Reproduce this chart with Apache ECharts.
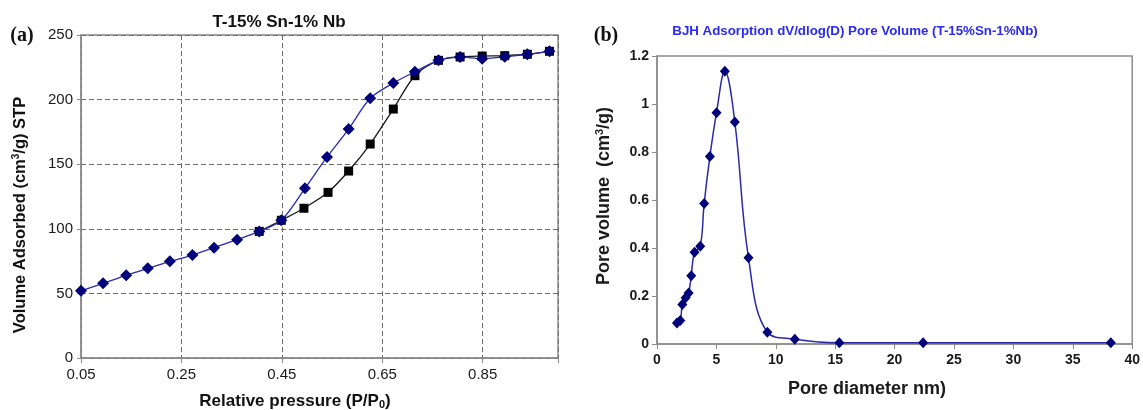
<!DOCTYPE html>
<html>
<head>
<meta charset="utf-8">
<script src="https://cdn.jsdelivr.net/npm/echarts@6/dist/echarts.min.js"></script>
<style>
  html, body { margin: 0; padding: 0; background: #fff; }
  #chart { width: 1143px; height: 410px; }
</style>
</head>
<body>
<div id="chart"></div>
<script>
// (a) N2 isotherm: adsorption and desorption branches
const pressureAds = [0.05, 0.094, 0.140, 0.183, 0.227, 0.272, 0.315, 0.361, 0.405, 0.449, 0.496, 0.540, 0.583, 0.626, 0.672, 0.715, 0.762, 0.805, 0.849, 0.894, 0.939, 0.983];
const volumeAds = [52.0, 57.8, 64.0, 69.4, 74.8, 79.7, 85.4, 91.6, 98.0, 106.6, 131.3, 155.6, 177.2, 201.0, 212.8, 221.6, 230.4, 233.0, 231.7, 233.2, 235.1, 237.4];
const pressureDes = [0.405, 0.449, 0.494, 0.542, 0.583, 0.626, 0.672, 0.715, 0.762, 0.805, 0.849, 0.894, 0.939, 0.983];
const volumeDes = [98.0, 106.6, 115.9, 128.2, 144.7, 165.6, 192.7, 218.5, 230.4, 233.0, 233.7, 234.0, 235.1, 237.4];

// (b) BJH pore size distribution
const poreDiameter = [1.68, 1.96, 2.13, 2.41, 2.66, 2.88, 3.16, 3.64, 3.97, 4.45, 5.01, 5.71, 6.55, 7.70, 9.29, 11.6, 15.35, 22.4, 38.2];
const poreVolume = [0.087, 0.098, 0.165, 0.193, 0.212, 0.284, 0.382, 0.407, 0.585, 0.781, 0.964, 1.136, 0.925, 0.359, 0.049, 0.020, 0.005, 0.005, 0.005];

const zip = (xs, ys) => xs.map((x, i) => [x, ys[i]]);

const SANS = '"Liberation Sans", Arial, sans-serif';
const SERIF = '"Liberation Serif", "Times New Roman", serif';
const AXIS_GRAY = '#8c8c8c';

const chart = echarts.init(document.getElementById('chart'), null, { renderer: 'canvas' });

chart.setOption({
  animation: false,
  backgroundColor: '#fff',
  grid: [
    { left: 81, top: 35, width: 477, height: 323, show: true, borderColor: AXIS_GRAY, borderWidth: 1.5, backgroundColor: 'transparent' },
    { left: 657, top: 56, width: 476, height: 288, show: true, borderColor: AXIS_GRAY, borderWidth: 1.5, backgroundColor: 'transparent' }
  ],
  xAxis: [
    {
      gridIndex: 0, type: 'value', min: 0.05, max: 1.0, interval: 0.2,
      axisLine: { show: true, lineStyle: { color: AXIS_GRAY, width: 1.5 } },
      axisTick: { show: true, length: 5, lineStyle: { color: AXIS_GRAY } },
      splitLine: { show: true, lineStyle: { color: '#6e6e6e', type: [5, 3], width: 1 } },
      axisLabel: {
        fontFamily: SANS, fontSize: 15, color: '#1a1a1a', margin: 9,
        formatter: v => (Math.abs(v - 1) < 1e-6 ? '' : v.toFixed(2))
      }
    },
    {
      gridIndex: 1, type: 'value', min: 0, max: 40, interval: 5,
      axisLine: { show: true, lineStyle: { color: AXIS_GRAY, width: 1.5 } },
      axisTick: { show: true, length: 5, lineStyle: { color: AXIS_GRAY } },
      splitLine: { show: false },
      axisLabel: { fontFamily: SANS, fontSize: 14, fontWeight: 'bold', color: '#1a1a1a', margin: 9 }
    }
  ],
  yAxis: [
    {
      gridIndex: 0, type: 'value', min: 0, max: 250, interval: 50,
      axisLine: { show: true, lineStyle: { color: AXIS_GRAY, width: 1.5 } },
      axisTick: { show: true, length: 4, lineStyle: { color: AXIS_GRAY } },
      splitLine: { show: true, lineStyle: { color: '#6e6e6e', type: [5, 3], width: 1 } },
      axisLabel: { fontFamily: SANS, fontSize: 15, color: '#1a1a1a', margin: 8 }
    },
    {
      gridIndex: 1, type: 'value', min: 0, max: 1.2, interval: 0.2,
      axisLine: { show: true, lineStyle: { color: AXIS_GRAY, width: 1.5 } },
      axisTick: { show: true, length: 5, lineStyle: { color: AXIS_GRAY } },
      splitLine: { show: false },
      axisLabel: { fontFamily: SANS, fontSize: 14, fontWeight: 'bold', color: '#1a1a1a', margin: 8 }
    }
  ],
  series: [
    {
      name: 'Desorption', type: 'line', xAxisIndex: 0, yAxisIndex: 0,
      data: zip(pressureDes, volumeDes), smooth: 0.3,
      symbol: 'rect', symbolSize: 9,
      lineStyle: { color: '#1a1a1a', width: 1.3 },
      itemStyle: { color: '#000', borderWidth: 0 }, z: 2
    },
    {
      name: 'Adsorption', type: 'line', xAxisIndex: 0, yAxisIndex: 0,
      data: zip(pressureAds, volumeAds), smooth: 0.3,
      symbol: 'diamond', symbolSize: [12, 12],
      lineStyle: { color: '#2a2ab8', width: 1.3 },
      itemStyle: { color: '#00007a', borderWidth: 0 }, z: 3
    },
    {
      name: 'BJH', type: 'line', xAxisIndex: 1, yAxisIndex: 1,
      data: zip(poreDiameter, poreVolume), smooth: 0.4,
      symbol: 'diamond', symbolSize: [10, 11],
      lineStyle: { color: '#2a2aa8', width: 1.5 },
      itemStyle: { color: '#00007a', borderWidth: 0 }, z: 3
    }
  ],
  graphic: [
    { type: 'text', x: 22, y: 36, style: { text: '(a)', font: 'bold 20px ' + SERIF, fill: '#111', align: 'center', verticalAlign: 'middle' } },
    { type: 'text', x: 606, y: 36, style: { text: '(b)', font: 'bold 20px ' + SERIF, fill: '#111', align: 'center', verticalAlign: 'middle' } },
    { type: 'text', x: 279, y: 22, style: { text: 'T-15% Sn-1% Nb', font: 'bold 17px ' + SANS, fill: '#111', align: 'center', verticalAlign: 'middle' } },
    { type: 'text', x: 855, y: 31, style: { text: 'BJH Adsorption dV/dlog(D) Pore Volume (T-15%Sn-1%Nb)', font: 'bold 13.3px ' + SANS, fill: '#2a2af0', align: 'center', verticalAlign: 'middle' } },
    {
      type: 'text', x: 20, y: 215, rotation: Math.PI / 2,
      style: {
        text: 'Volume Adsorbed (cm{sup|3}/g) STP', font: 'bold 16.5px ' + SANS, fill: '#111', align: 'center', verticalAlign: 'middle',
        rich: { sup: { font: 'bold 10px ' + SANS, fill: '#111', verticalAlign: 'top', padding: [0, 0, 8, 0] } }
      }
    },
    {
      type: 'text', x: 295, y: 401,
      style: {
        text: 'Relative pressure (P/P{sub|0})', font: 'bold 17px ' + SANS, fill: '#111', align: 'center', verticalAlign: 'middle',
        rich: { sub: { font: 'bold 11px ' + SANS, fill: '#111', padding: [7, 0, 0, 0] } }
      }
    },
    {
      type: 'text', x: 604, y: 196, rotation: Math.PI / 2,
      style: {
        text: 'Pore volume  (cm{sup|3}/g)', font: 'bold 18px ' + SANS, fill: '#1a1a1a', align: 'center', verticalAlign: 'middle',
        rich: { sup: { font: 'bold 11px ' + SANS, fill: '#1a1a1a', padding: [0, 0, 8, 0] } }
      }
    },
    { type: 'text', x: 867, y: 389, style: { text: 'Pore diameter nm)', font: 'bold 18px ' + SANS, fill: '#1a1a1a', align: 'center', verticalAlign: 'middle' } }
  ]
});
</script>
</body>
</html>
